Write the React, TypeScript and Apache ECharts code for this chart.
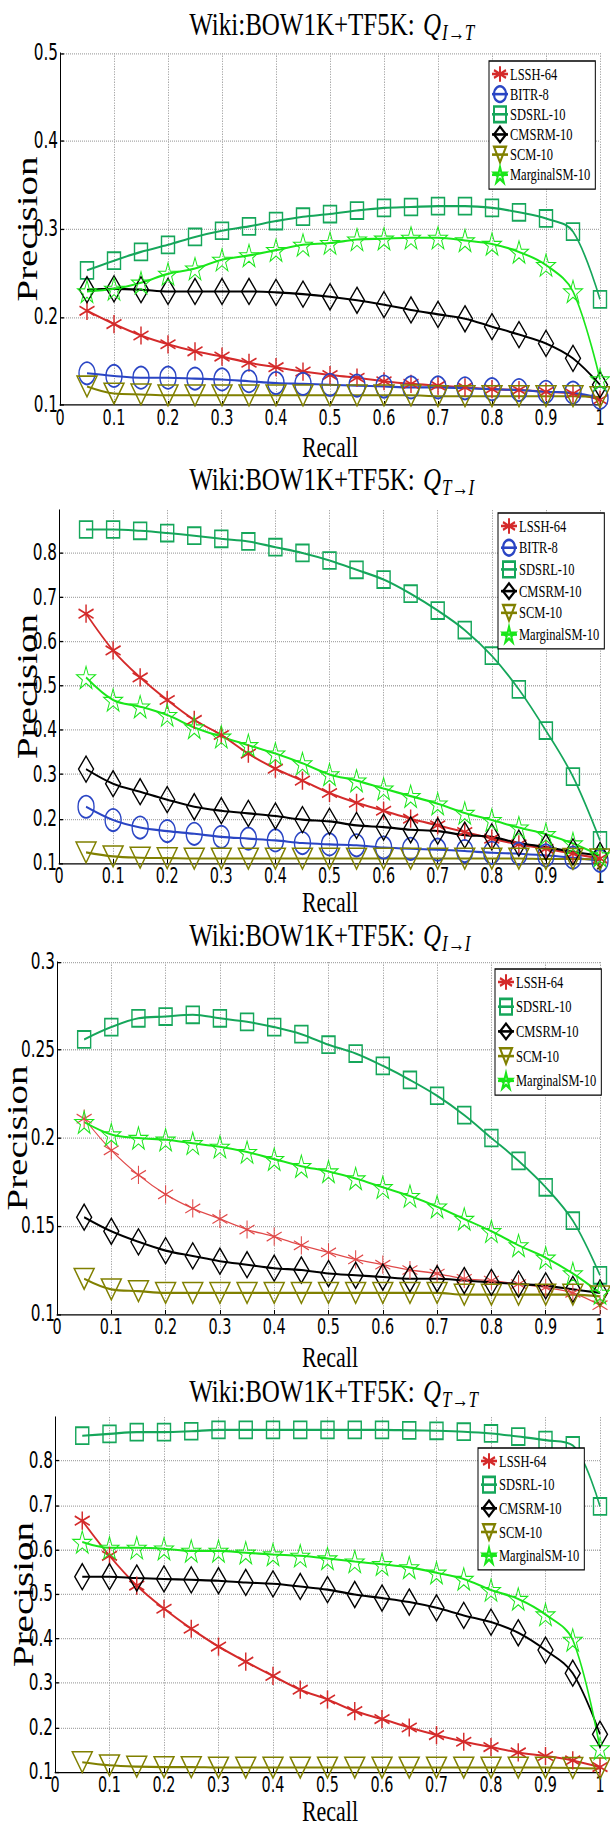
import React, { useEffect, useRef } from 'react';
import * as echarts from 'echarts';

// Recall positions (x values)
const RECALL = [0.05, 0.1, 0.15, 0.2, 0.25, 0.3, 0.35, 0.4, 0.45, 0.5, 0.55, 0.6, 0.65, 0.7, 0.75, 0.8, 0.85, 0.9, 0.95, 1.0];

// Panel 1: Q I->T
const lsshIT = [0.207, 0.192, 0.179, 0.169, 0.161, 0.155, 0.148, 0.143, 0.138, 0.134, 0.131, 0.127, 0.124, 0.122, 0.120, 0.118, 0.117, 0.115, 0.113, 0.106];
const bitrIT = [0.136, 0.133, 0.131, 0.131, 0.130, 0.129, 0.127, 0.125, 0.124, 0.123, 0.122, 0.121, 0.120, 0.120, 0.119, 0.118, 0.117, 0.115, 0.114, 0.108];
const sdsrlIT = [0.253, 0.264, 0.274, 0.282, 0.291, 0.298, 0.303, 0.309, 0.314, 0.317, 0.321, 0.324, 0.325, 0.326, 0.326, 0.324, 0.319, 0.312, 0.297, 0.220];
const cmsrmIT = [0.231, 0.232, 0.231, 0.229, 0.229, 0.229, 0.229, 0.228, 0.226, 0.223, 0.219, 0.214, 0.208, 0.203, 0.198, 0.189, 0.180, 0.170, 0.153, 0.123];
const scmIT = [0.121, 0.113, 0.112, 0.111, 0.111, 0.111, 0.111, 0.111, 0.111, 0.111, 0.111, 0.111, 0.111, 0.110, 0.110, 0.110, 0.110, 0.110, 0.110, 0.109];
const margIT = [0.229, 0.232, 0.239, 0.249, 0.255, 0.265, 0.270, 0.276, 0.282, 0.284, 0.288, 0.289, 0.290, 0.290, 0.287, 0.283, 0.274, 0.259, 0.229, 0.129];

// Panel 2: Q T->I
const lsshTI = [0.663, 0.580, 0.519, 0.468, 0.423, 0.389, 0.347, 0.313, 0.286, 0.258, 0.236, 0.218, 0.200, 0.185, 0.170, 0.155, 0.142, 0.132, 0.121, 0.110];
const bitrTI = [0.227, 0.197, 0.180, 0.172, 0.166, 0.159, 0.155, 0.151, 0.145, 0.142, 0.140, 0.135, 0.132, 0.130, 0.127, 0.123, 0.121, 0.117, 0.112, 0.105];
const sdsrlTI = [0.853, 0.853, 0.850, 0.845, 0.839, 0.832, 0.826, 0.813, 0.800, 0.783, 0.762, 0.740, 0.708, 0.670, 0.626, 0.568, 0.492, 0.399, 0.295, 0.151];
const cmsrmTI = [0.312, 0.279, 0.261, 0.243, 0.227, 0.218, 0.212, 0.206, 0.198, 0.194, 0.185, 0.181, 0.175, 0.172, 0.163, 0.159, 0.145, 0.136, 0.125, 0.117];
const scmTI = [0.124, 0.115, 0.112, 0.111, 0.110, 0.110, 0.110, 0.110, 0.110, 0.110, 0.110, 0.110, 0.110, 0.110, 0.110, 0.110, 0.110, 0.109, 0.109, 0.108];
const margTI = [0.519, 0.468, 0.453, 0.434, 0.406, 0.385, 0.366, 0.347, 0.325, 0.300, 0.286, 0.268, 0.251, 0.234, 0.213, 0.197, 0.180, 0.165, 0.144, 0.117];

// Panel 3: Q I->I
const lsshII = [0.211, 0.193, 0.179, 0.168, 0.160, 0.154, 0.148, 0.144, 0.139, 0.135, 0.131, 0.128, 0.125, 0.123, 0.120, 0.119, 0.117, 0.115, 0.112, 0.105];
const sdsrlII = [0.256, 0.263, 0.268, 0.269, 0.270, 0.268, 0.266, 0.263, 0.259, 0.253, 0.248, 0.241, 0.233, 0.224, 0.213, 0.200, 0.187, 0.172, 0.153, 0.122];
const cmsrmII = [0.155, 0.147, 0.141, 0.136, 0.133, 0.130, 0.128, 0.126, 0.125, 0.123, 0.122, 0.121, 0.120, 0.120, 0.119, 0.118, 0.117, 0.116, 0.114, 0.112];
const scmII = [0.120, 0.114, 0.113, 0.112, 0.112, 0.112, 0.112, 0.112, 0.112, 0.112, 0.112, 0.112, 0.112, 0.112, 0.111, 0.111, 0.111, 0.111, 0.111, 0.110];
const margII = [0.209, 0.202, 0.200, 0.199, 0.197, 0.195, 0.192, 0.188, 0.184, 0.181, 0.177, 0.172, 0.167, 0.161, 0.154, 0.147, 0.139, 0.132, 0.123, 0.112];

// Panel 4: Q T->T
const lsshTT = [0.665, 0.586, 0.519, 0.467, 0.422, 0.382, 0.348, 0.316, 0.285, 0.263, 0.237, 0.219, 0.200, 0.183, 0.168, 0.156, 0.144, 0.136, 0.126, 0.111];
const sdsrlTT = [0.856, 0.860, 0.864, 0.864, 0.866, 0.869, 0.869, 0.869, 0.869, 0.869, 0.869, 0.869, 0.868, 0.867, 0.865, 0.861, 0.854, 0.846, 0.834, 0.697];
const cmsrmTT = [0.539, 0.539, 0.536, 0.534, 0.532, 0.530, 0.526, 0.523, 0.517, 0.510, 0.499, 0.491, 0.482, 0.469, 0.452, 0.437, 0.413, 0.374, 0.322, 0.185];
const scmTT = [0.122, 0.115, 0.112, 0.111, 0.111, 0.110, 0.110, 0.110, 0.110, 0.110, 0.110, 0.110, 0.110, 0.110, 0.110, 0.110, 0.110, 0.110, 0.109, 0.108];
const margTT = [0.617, 0.604, 0.604, 0.602, 0.597, 0.597, 0.593, 0.589, 0.586, 0.580, 0.573, 0.567, 0.560, 0.548, 0.534, 0.509, 0.489, 0.454, 0.397, 0.153];

const SERIES_NAMES = ['LSSH-64', 'BITR-8', 'SDSRL-10', 'CMSRM-10', 'SCM-10', 'MarginalSM-10'];
const PANEL_TITLES = ['I\u2192T', 'T\u2192I', 'I\u2192I', 'T\u2192T'];
const TITLE_MAIN = 'Wiki:BOW1K+TF5K: ';
const X_NAME = 'Recall';
const Y_NAME = 'Precision';

const PANEL_DATA: Array<Record<string, number[]>> = [
  { 'LSSH-64': lsshIT, 'BITR-8': bitrIT, 'SDSRL-10': sdsrlIT, 'CMSRM-10': cmsrmIT, 'SCM-10': scmIT, 'MarginalSM-10': margIT },
  { 'LSSH-64': lsshTI, 'BITR-8': bitrTI, 'SDSRL-10': sdsrlTI, 'CMSRM-10': cmsrmTI, 'SCM-10': scmTI, 'MarginalSM-10': margTI },
  { 'LSSH-64': lsshII, 'SDSRL-10': sdsrlII, 'CMSRM-10': cmsrmII, 'SCM-10': scmII, 'MarginalSM-10': margII },
  { 'LSSH-64': lsshTT, 'SDSRL-10': sdsrlTT, 'CMSRM-10': cmsrmTT, 'SCM-10': scmTT, 'MarginalSM-10': margTT },
];

// ---- layout / style (not data) ----
const S = 1.3; // vertical stretch of the whole figure
const W = 610;
const H = 1407;

const ASTER = 'path://M0,-10L0,10M-8.66,-5L8.66,5M-8.66,5L8.66,-5';
const STAR = 'path://M0,-10L2.245,-3.09L9.511,-3.09L3.633,1.18L5.878,8.09L0,3.82L-5.878,8.09L-3.633,1.18L-9.511,-3.09L-2.245,-3.09Z';
const TRI_DOWN = 'path://M-10,-8.66L10,-8.66L0,8.66Z';

const STYLE: Record<string, any> = {
  'LSSH-64': { color: '#d42a2a', symbol: ASTER, size: [15, 14], bw: 1.4 },
  'BITR-8': { color: '#2a45c4', symbol: 'circle', size: [16, 17], bw: 1.4 },
  'SDSRL-10': { color: '#15a65a', symbol: 'rect', size: [13, 13], bw: 1.4 },
  'CMSRM-10': { color: '#000000', symbol: 'diamond', size: [15, 20], bw: 1.3 },
  'SCM-10': { color: '#808000', symbol: TRI_DOWN, size: [20, 16], bw: 1.3 },
  'MarginalSM-10': { color: '#1ae61a', symbol: STAR, size: [19, 17], bw: 0.9 },
};

const PANELS = [
  { left: 60, top: 53, bottom: 405, min: 0.1, max: 0.5, interval: 0.1, titleY: 24, recallY: 447, precX: 27,
    legend: { left: 489, top: 61, gap: 1.5 } },
  { left: 59, top: 510, bottom: 863, min: 0.1, max: 0.897, interval: 0.1, titleY: 479, recallY: 902, precX: 27,
    legend: { left: 498, top: 513, gap: 2.7 } },
  { left: 57, top: 962, bottom: 1314, min: 0.1, max: 0.3, interval: 0.05, titleY: 935, recallY: 1357, precX: 17,
    legend: { left: 495, top: 969, gap: 5 } },
  { left: 55, top: 1417, bottom: 1772, min: 0.1, max: 0.898, interval: 0.1, titleY: 1391, recallY: 1811, precX: 23,
    legend: { left: 478, top: 1448, gap: 4.2 } },
];

const SERIF = "'Liberation Serif', 'DejaVu Serif', serif";
const TICKFONT = "'Liberation Sans Narrow', 'DejaVu Sans Condensed', 'Liberation Sans', sans-serif";

function buildOption() {
  const grid: any[] = [];
  const xAxis: any[] = [];
  const yAxis: any[] = [];
  const series: any[] = [];
  const legend: any[] = [];
  const graphic: any[] = [];

  PANELS.forEach((p, i) => {
    const top = p.top / S;
    const height = (p.bottom - p.top) / S;
    grid.push({ left: p.left, top, width: 600 - p.left, height, containLabel: false, outerBoundsMode: 'none' });
    xAxis.push({
      type: 'value', gridIndex: i, min: 0, max: 1, interval: 0.1,
      axisLine: { show: true, onZero: false, lineStyle: { color: '#000', width: 1 } },
      axisTick: { show: true, inside: true, length: 3, lineStyle: { color: '#000' } },
      axisLabel: { color: '#000', fontFamily: TICKFONT, fontSize: 16, margin: 2,
        formatter: (v: number) => String(Math.round(v * 10) / 10) },
      splitLine: { show: true, showMinLine: false, lineStyle: { type: 'dotted', color: '#a8a8a8', width: 1 } },
    });
    const notAligned = Math.abs(p.max / p.interval - Math.round(p.max / p.interval)) > 1e-6;
    yAxis.push({
      type: 'value', gridIndex: i, min: p.min, max: p.max, interval: p.interval,
      axisLine: { show: true, onZero: false, lineStyle: { color: '#000', width: 1 } },
      axisTick: { show: true, inside: true, length: 4, lineStyle: { color: '#000' } },
      axisLabel: { color: '#000', fontFamily: TICKFONT, fontSize: 17, margin: 2, showMaxLabel: !notAligned,
        formatter: (v: number) => String(Math.round(v * 100) / 100) },
      splitLine: { show: true, showMinLine: false, showMaxLine: !notAligned,
        lineStyle: { type: 'dotted', color: '#a8a8a8', width: 1 } },
    });

    const data = PANEL_DATA[i];
    const names = SERIES_NAMES.filter((n) => data[n]);
    names.forEach((name) => {
      const st = STYLE[name];
      const thin = i === 2 && name === 'LSSH-64';
      const col = thin ? '#e04848' : st.color;
      series.push({
        type: 'line', name, xAxisIndex: i, yAxisIndex: i,
        data: RECALL.map((x, k) => [x, data[name][k]]),
        smooth: 0.35,
        symbol: st.symbol, symbolSize: st.size,
        showAllSymbol: true,
        lineStyle: { color: col, width: thin ? 1 : 1.6 },
        itemStyle: { color: 'rgba(0,0,0,0)', borderColor: col, borderWidth: thin ? 1 : st.bw },
        emphasis: { disabled: true },
        clip: false,
        z: 2,
      });
    });

    legend.push({
      show: true, orient: 'vertical', left: p.legend.left, top: p.legend.top / S,
      data: names, selectedMode: false,
      itemWidth: 16, itemHeight: 15, itemGap: p.legend.gap,
      padding: [3, 5, 4, 2],
      backgroundColor: '#fff', borderColor: '#000', borderWidth: 1, borderRadius: 0,
      textStyle: { fontFamily: SERIF, fontSize: 12.5, color: '#000', padding: [0, 0, 0, -3] },
    });

    // title: main text + italic Q + subscript
    const ty = p.titleY / S;
    graphic.push({ type: 'text', x: 421, y: ty, silent: true,
      style: { text: TITLE_MAIN, fill: '#000', fontFamily: SERIF, fontSize: 25,
        align: 'right', verticalAlign: 'middle', textAlign: 'right', textVerticalAlign: 'middle' } });
    graphic.push({ type: 'text', x: 423, y: ty, silent: true,
      style: { text: 'Q', fill: '#000', fontFamily: SERIF, fontSize: 25, fontStyle: 'italic',
        align: 'left', verticalAlign: 'middle', textAlign: 'left', textVerticalAlign: 'middle' } });
    graphic.push({ type: 'text', x: 442, y: ty + 6, silent: true,
      style: { text: PANEL_TITLES[i], fill: '#000', fontFamily: SERIF, fontSize: 17, fontStyle: 'italic',
        align: 'left', verticalAlign: 'middle', textAlign: 'left', textVerticalAlign: 'middle' } });
    // x axis name
    graphic.push({ type: 'text', x: 330, y: p.recallY / S, silent: true,
      style: { text: X_NAME, fill: '#000', fontFamily: SERIF, fontSize: 22,
        align: 'center', verticalAlign: 'middle', textAlign: 'center', textVerticalAlign: 'middle' } });
    // y axis name
    graphic.push({ type: 'text', x: p.precX, y: (top + top + height) / 2, rotation: Math.PI / 2, silent: true,
      style: { text: Y_NAME, fill: '#000', fontFamily: SERIF, fontSize: 30,
        align: 'center', verticalAlign: 'middle', textAlign: 'center', textVerticalAlign: 'middle' } });
  });

  return { animation: false, backgroundColor: '#fff', grid, xAxis, yAxis, series, legend, graphic };
}

export default function App() {
  const ref = useRef<HTMLDivElement>(null);
  useEffect(() => {
    if (!ref.current) return;
    const chart = echarts.init(ref.current, null, { renderer: 'svg' });
    chart.setOption(buildOption() as any);
    return () => chart.dispose();
  }, []);
  return (
    <div
      ref={ref}
      style={{ position: 'absolute', left: 0, top: 0, width: W, height: H, transform: `scaleY(${S})`, transformOrigin: '0 0' }}
    />
  );
}
